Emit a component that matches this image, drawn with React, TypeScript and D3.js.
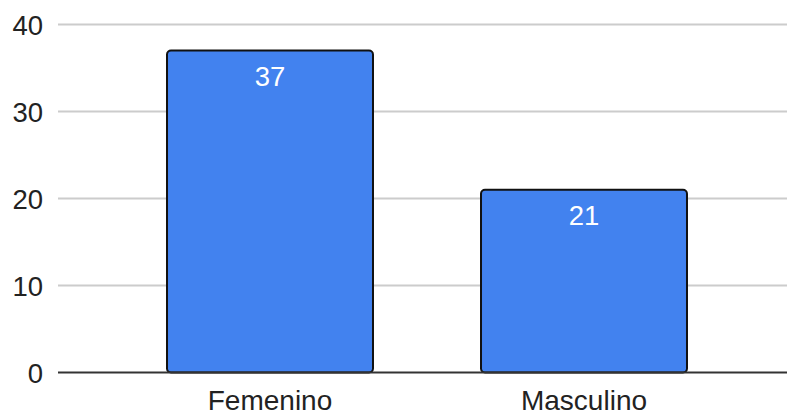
import * as d3 from "d3";

const categories = ["Femenino", "Masculino"];
const values = [37, 21];
const yTicks = [0, 10, 20, 30, 40];

const width = 787;
const height = 417;
const plot = { left: 58, right: 787, top: 24.5, bottom: 372.5 };

export default function App() {
  const x = d3.scaleBand<string>().domain(categories).range([113, 741]).paddingInner(0.344).paddingOuter(0.172);
  const y = d3.scaleLinear().domain([0, 40]).range([plot.bottom, plot.top]);

  return (
    <svg
      width={width}
      height={height}
      style={{ position: "fixed", left: 0, top: 0, fontFamily: "Arial, 'Liberation Sans', sans-serif" }}
    >
      <rect width={width} height={height} fill="#fff" />
      {yTicks.map((t) => (
        <g key={t}>
          {t !== 0 && (
            <line x1={plot.left} x2={plot.right} y1={y(t)} y2={y(t)} stroke="#cccccc" strokeWidth={2} />
          )}
          <text x={43} y={y(t) + 10} textAnchor="end" fontSize={27.5} fill="#222">
            {t}
          </text>
        </g>
      ))}

      {categories.map((c, i) => {
        const x0 = x(c) ?? 0;
        return (
          <g key={c}>
            <rect
              x={x0}
              y={y(values[i])}
              width={x.bandwidth()}
              height={y(0) - y(values[i])}
              rx={4}
              fill="#4282ef"
              stroke="#111"
              strokeWidth={2}
            />
            <text
              x={x0 + x.bandwidth() / 2}
              y={y(values[i]) + 35}
              textAnchor="middle"
              fontSize={27.5}
              fill="#fff"
            >
              {values[i]}
            </text>
            <text x={x0 + x.bandwidth() / 2} y={410} textAnchor="middle" fontSize={28} fill="#222">
              {c}
            </text>
          </g>
        );
      })}

      <line x1={plot.left} x2={plot.right} y1={y(0)} y2={y(0)} stroke="#333" strokeWidth={2} />
    </svg>
  );
}
